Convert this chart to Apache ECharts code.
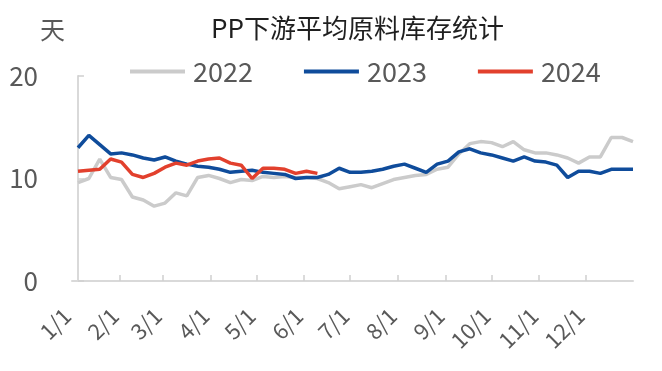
<!DOCTYPE html>
<html><head><meta charset="utf-8">
<script src="https://cdn.jsdelivr.net/npm/echarts@6/dist/echarts.min.js"></script>
<style>html,body{margin:0;padding:0;background:#fff}#c{width:662px;height:371px}</style>
</head><body><div id="c"></div>
<script>
const monthLabels = ['1/1','2/1','3/1','4/1','5/1','6/1','7/1','8/1','9/1','10/1','11/1','12/1'];
const monthStartDays = [0,31,59,90,120,151,181,212,243,273,304,334];
const yTicks = [0,10,20];
const s2022 = [9.6,10.0,11.9,10.1,9.9,8.2,7.9,7.3,7.6,8.6,8.3,10.1,10.3,10.0,9.6,9.9,9.8,10.2,10.1,10.2,10.1,10.1,10.0,9.6,9.0,9.2,9.4,9.1,9.5,9.9,10.1,10.3,10.4,10.9,11.1,12.4,13.4,13.6,13.5,13.1,13.6,12.8,12.5,12.5,12.3,12.0,11.5,12.1,12.1,14.0,14.0,13.6];
const s2023 = [13.0,14.2,13.3,12.4,12.5,12.3,12.0,11.8,12.1,11.7,11.4,11.2,11.1,10.9,10.6,10.7,10.8,10.6,10.5,10.4,10.0,10.1,10.1,10.4,11.0,10.6,10.6,10.7,10.9,11.2,11.4,11.0,10.6,11.4,11.7,12.6,12.9,12.5,12.3,12.0,11.7,12.1,11.7,11.6,11.3,10.1,10.7,10.7,10.5,10.9,10.9,10.9];
const s2024 = [10.7,10.8,10.9,11.9,11.6,10.4,10.1,10.5,11.1,11.5,11.3,11.7,11.9,12.0,11.5,11.3,10.0,11.0,11.0,10.9,10.5,10.7,10.5];
const seriesNames = ['2022','2023','2024'];

// x axis in week units: week 0 sits a little right of the axis start, week 51 at its end
const X_MIN = -0.55, X_MAX = 51;
const dayToWeek = d => X_MIN + d * (X_MAX - X_MIN) / 365;
const tickPos = monthStartDays.slice(1).map(dayToWeek);
const labelPos = monthStartDays.map(dayToWeek);
const pairs = arr => arr.map((v, i) => [i, v]);
const nearestLabel = v => { let k = 0, best = 1e9; labelPos.forEach((p, i) => { const d = Math.abs(p - v); if (d < best) { best = d; k = i; } }); return monthLabels[k]; };

const font = '"Noto Sans CJK SC", "Noto Sans", sans-serif';
const chart = echarts.init(document.getElementById('c'));
chart.setOption({
  animation: false,
  backgroundColor: '#fff',
  title: [
    {text: 'PP下游平均原料库存统计', left: 206, top: 10, textStyle: {fontFamily: font, fontSize: 26, fontWeight: 'normal', color: '#1f1f1f'}},
    {text: '天', left: 35, top: 12, textStyle: {fontFamily: font, fontSize: 25, fontWeight: 'normal', color: '#595959'}}
  ],
  legend: {
    top: 53, left: 125, itemWidth: 55, itemHeight: 4, itemGap: 51,
    icon: 'rect',
    textStyle: {fontFamily: font, fontSize: 27, color: '#595959', padding: [0, 0, 0, 3]},
    data: seriesNames
  },
  grid: [
    {left: 72, right: 29, top: 76, bottom: 90},
    {left: 67, right: 34, top: 76, bottom: 90}
  ],
  xAxis: [{
    type: 'value', min: X_MIN, max: X_MAX, gridIndex: 0,
    axisLine: {show: true, lineStyle: {color: '#d9d9d9', width: 2}},
    axisTick: {show: true, inside: true, length: 6, lineStyle: {color: '#d0d0d0', width: 1.5}, customValues: tickPos},
    axisLabel: {show: false},
    splitLine: {show: false}
  }, {
    type: 'value', min: X_MIN, max: X_MAX, gridIndex: 1,
    axisLine: {show: false}, axisTick: {show: false}, splitLine: {show: false},
    axisLabel: {show: true, rotate: 45, margin: 31, fontFamily: font, fontSize: 22, color: '#595959', customValues: labelPos, formatter: nearestLabel}
  }],
  yAxis: [{
    type: 'value', min: 0, max: 20, interval: 10, gridIndex: 0,
    axisLine: {show: true, lineStyle: {color: '#d9d9d9', width: 2}},
    axisTick: {show: true, inside: true, length: 6, lineStyle: {color: '#d0d0d0', width: 1.5}},
    axisLabel: {fontFamily: font, fontSize: 26, color: '#595959', margin: 34,
      formatter: v => yTicks.includes(v) ? String(v) : ''},
    splitLine: {show: false}
  }, {
    type: 'value', min: 0, max: 20, gridIndex: 1, show: false
  }],
  series: [
    {name: '2022', type: 'line', data: pairs(s2022), showSymbol: false, lineStyle: {width: 3.5, color: '#cbcbcb'}, itemStyle: {color: '#cbcbcb'}, z: 1},
    {name: '2023', type: 'line', data: pairs(s2023), showSymbol: false, lineStyle: {width: 3.5, color: '#0f4c9b'}, itemStyle: {color: '#0f4c9b'}, z: 2},
    {name: '2024', type: 'line', data: pairs(s2024), showSymbol: false, lineStyle: {width: 3.5, color: '#e2402d'}, itemStyle: {color: '#e2402d'}, z: 3}
  ]
});
</script></body></html>
